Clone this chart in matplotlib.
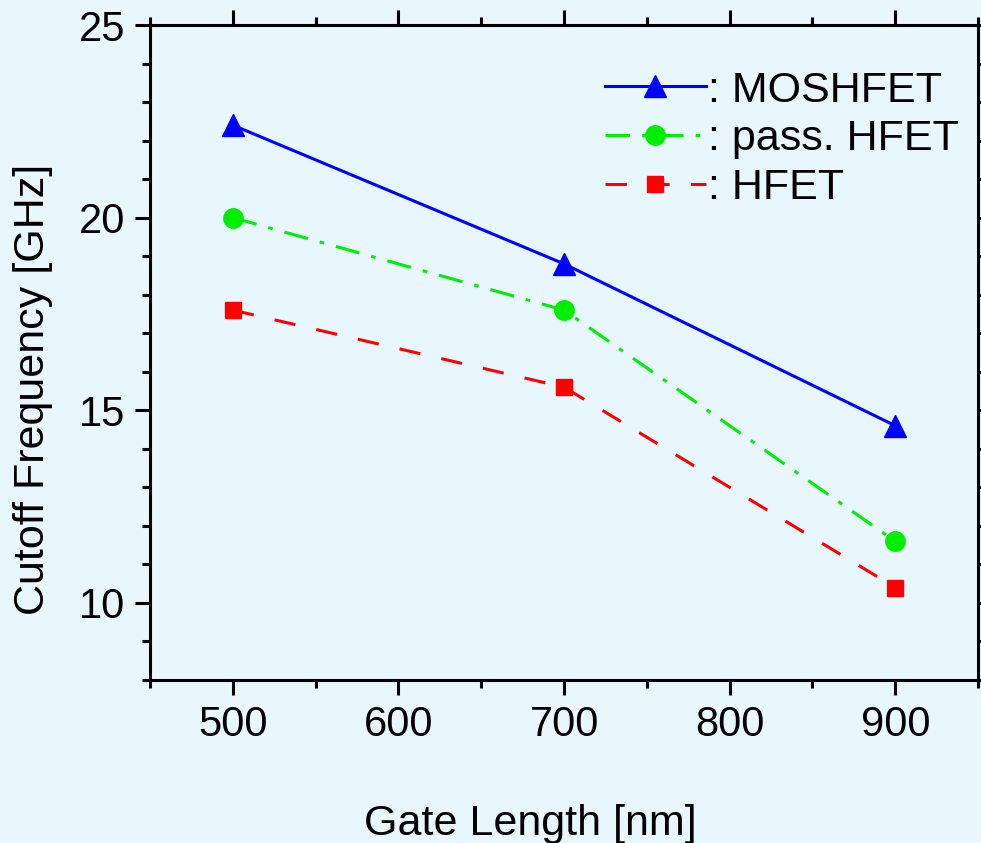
import matplotlib.pyplot as plt
from matplotlib.ticker import MultipleLocator

# data
gate_length = [500, 700, 900]
moshfet = [22.4, 18.8, 14.6]
pass_hfet = [20.0, 17.6, 11.6]
hfet = [17.6, 15.6, 10.4]

bg = '#E8F6FD'
plt.rcParams['font.family'] = ['Liberation Sans', 'DejaVu Sans']

fig = plt.figure(figsize=(9.81, 8.43), dpi=100, facecolor=bg)
ax = fig.add_axes([0.153, 0.1934, 0.844, 0.7769], facecolor=bg)

ax.plot(gate_length, moshfet, color='#0000FF', lw=2.2, marker='^', ms=16,
        label=': MOSHFET')
ax.plot(gate_length, pass_hfet, color='#00EE00', lw=2.2, marker='o', ms=14,
        dashes=(8, 4, 1.5, 4), label=': pass. HFET')
ax.plot(gate_length, hfet, color='#FF0000', lw=2.2, marker='s', ms=12,
        dashes=(7, 7), label=': HFET')

ax.set_xlim(450, 950)
ax.set_ylim(8, 25)
ax.xaxis.set_major_locator(MultipleLocator(100))
ax.xaxis.set_minor_locator(MultipleLocator(50))
ax.yaxis.set_major_locator(MultipleLocator(5))
ax.yaxis.set_minor_locator(MultipleLocator(1))

for s in ax.spines.values():
    s.set_linewidth(2.2)
ax.tick_params(which='major', direction='out', length=11, width=2.2,
               labelsize=30, top=True, right=True, pad=7)
ax.tick_params(which='minor', direction='out', length=6, width=2.2,
               top=True, right=True)
ax.tick_params(axis='x', labeltop=False, pad=7)

ax.set_xlabel('Gate Length [nm]', fontsize=31)
ax.set_ylabel('Cutoff Frequency [GHz]', fontsize=31)
ax.xaxis.set_label_coords(0.459, -0.19)
ax.yaxis.set_label_coords(-0.117, 0.443)

ax.legend(loc='upper right', bbox_to_anchor=(1.008, 0.97), frameon=False,
          fontsize=31, handlelength=2.35, handletextpad=0.05, labelspacing=0.2,
          numpoints=1, borderaxespad=0.2)

fig.savefig('out.png', dpi=100, facecolor=bg)
